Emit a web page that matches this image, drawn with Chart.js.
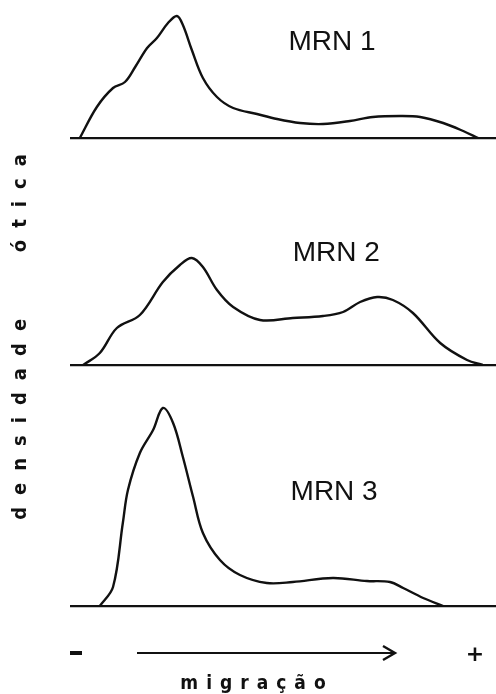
<!DOCTYPE html>
<html>
<head>
<meta charset="utf-8">
<script src="https://cdn.jsdelivr.net/npm/chart.js@4.4.1/dist/chart.umd.min.js"></script>
<style>
    html, body { margin: 0; padding: 0; background: #fff; }
    #wrap { position: relative; width: 496px; height: 694px; overflow: hidden; }
    #grafico { position: absolute; left: 0; top: 0; }
    .txt { position: absolute; color: #111; white-space: pre; }
    #eixoY {
        left: 19px; top: 331px;
        transform: translate(-50%, -50%) rotate(-90deg);
        font: bold 20px "DejaVu Sans Condensed", "DejaVu Sans";
        letter-spacing: 12px;
    }
    #eixoX {
        left: 257px; top: 682px;
        transform: translate(-50%, -50%);
        font: bold 19px "DejaVu Sans Condensed", "DejaVu Sans";
        letter-spacing: 8px;
    }
    #menos { left: 70px; top: 651px; width: 12px; height: 4px; background: #111; }
    #mais { left: 475px; top: 653px; transform: translate(-50%, -50%); font: bold 22px "DejaVu Sans"; }
    #seta { position: absolute; left: 0; top: 0; }
</style>
</head>
<body>
<div id="wrap">
    <canvas id="grafico" width="496" height="694"></canvas>
    <svg id="seta" width="496" height="694">
        <line x1="137" y1="653" x2="394" y2="653" stroke="#111" stroke-width="2"/>
        <polyline points="383,646 395,653 383,660" fill="none" stroke="#111" stroke-width="2.4"/>
    </svg>
    <div class="txt" id="eixoY">densidade   ótica</div>
    <div class="txt" id="menos"></div>
    <div class="txt" id="mais">+</div>
    <div class="txt" id="eixoX">migração</div>
</div>
<script>
// migração (unidades arbitrárias, 0–100) e densidade ótica de cada amostra
const migracao1 = [2.3, 6.3, 10.1, 12.9, 15.3, 18.1, 20.4, 23.0, 25.1, 26.5, 28.6, 31.2, 34.5, 38.3, 43.9, 48.6, 54.0, 59.4, 65.7, 71.1, 77.5, 82.2, 87.6, 92.3, 95.8];
const densidade1 = [0, 15.5, 25, 28, 35.5, 45, 50, 57.5, 61, 56.5, 44, 30, 20.5, 15, 12, 9.5, 7.5, 7, 8.5, 10.5, 11, 10.5, 7.5, 3.5, 0];

const migracao2 = [3.1, 7.0, 11.0, 16.4, 21.8, 25.8, 28.6, 31.2, 34.5, 38.3, 44.6, 52.3, 59.4, 64.1, 68.1, 72.1, 75.8, 80.5, 86.9, 93.2, 96.9];
const densidade2 = [0, 6, 18.5, 25, 41.5, 50, 53.5, 49, 37.5, 29, 22.5, 23.5, 24.5, 26.5, 31.5, 34, 32.5, 26, 11, 2.5, 0];

const migracao3 = [7.0, 10.1, 12.4, 13.6, 16.4, 19.5, 21.8, 24.2, 26.5, 28.9, 31.2, 35.2, 39.9, 46.2, 52.3, 61.7, 69.7, 75.1, 78.2, 82.9, 87.6];
const densidade3 = [0, 9.5, 41.5, 58, 76.5, 88, 99, 91.5, 74.5, 54.5, 36.5, 23, 15.5, 11.5, 12, 14, 12.5, 12, 9, 4, 0];

const rotulos = ["MRN 1", "MRN 2", "MRN 3"];

function pares(xs, ys) {
    return xs.map((x, i) => ({ x: x, y: ys[i] }));
}

function eixoPainel(peso, maximo) {
    return {
        type: "linear",
        position: "left",
        stack: "paineis",
        stackWeight: peso,
        min: 0,
        max: maximo,
        ticks: { display: false },
        border: { display: false },
        grid: {
            drawTicks: false,
            lineWidth: 2.2,
            color: c => c.tick && c.tick.value === 0 ? "#111" : "rgba(0,0,0,0)"
        }
    };
}

function serie(xs, ys, eixo) {
    return {
        data: pares(xs, ys),
        yAxisID: eixo,
        borderColor: "#111",
        borderWidth: 2.4,
        pointRadius: 0,
        fill: false,
        tension: 0.35
    };
}

// rótulos MRN dentro de cada painel
const pluginRotulos = {
    id: "rotulos",
    afterDatasetsDraw(chart) {
        const ctx = chart.ctx;
        const x = chart.scales.x;
        const pos = [["y1", 61.5, 48], ["y2", 62.5, 56], ["y3", 62, 57]];
        ctx.save();
        ctx.fillStyle = "#111";
        ctx.font = "28px 'Liberation Sans'";
        ctx.textAlign = "center";
        ctx.textBaseline = "middle";
        pos.forEach(([id, vx, vy], i) => {
            ctx.fillText(rotulos[i], x.getPixelForValue(vx), chart.scales[id].getPixelForValue(vy));
        });
        ctx.restore();
    }
};

new Chart(document.getElementById("grafico"), {
    type: "line",
    data: {
        datasets: [
            serie(migracao3, densidade3, "y3"),
            serie(migracao2, densidade2, "y2"),
            serie(migracao1, densidade1, "y1")
        ]
    },
    options: {
        responsive: false,
        animation: false,
        layout: { padding: { left: 70, right: 0, top: 5, bottom: 88 } },
        plugins: { legend: { display: false }, tooltip: { enabled: false } },
        scales: {
            x: { type: "linear", min: 0, max: 100, display: false },
            y3: eixoPainel(241, 120.5),
            y2: eixoPainel(227, 113.5),
            y1: eixoPainel(133, 66.5)
        }
    },
    plugins: [pluginRotulos]
});
</script>
</body>
</html>
